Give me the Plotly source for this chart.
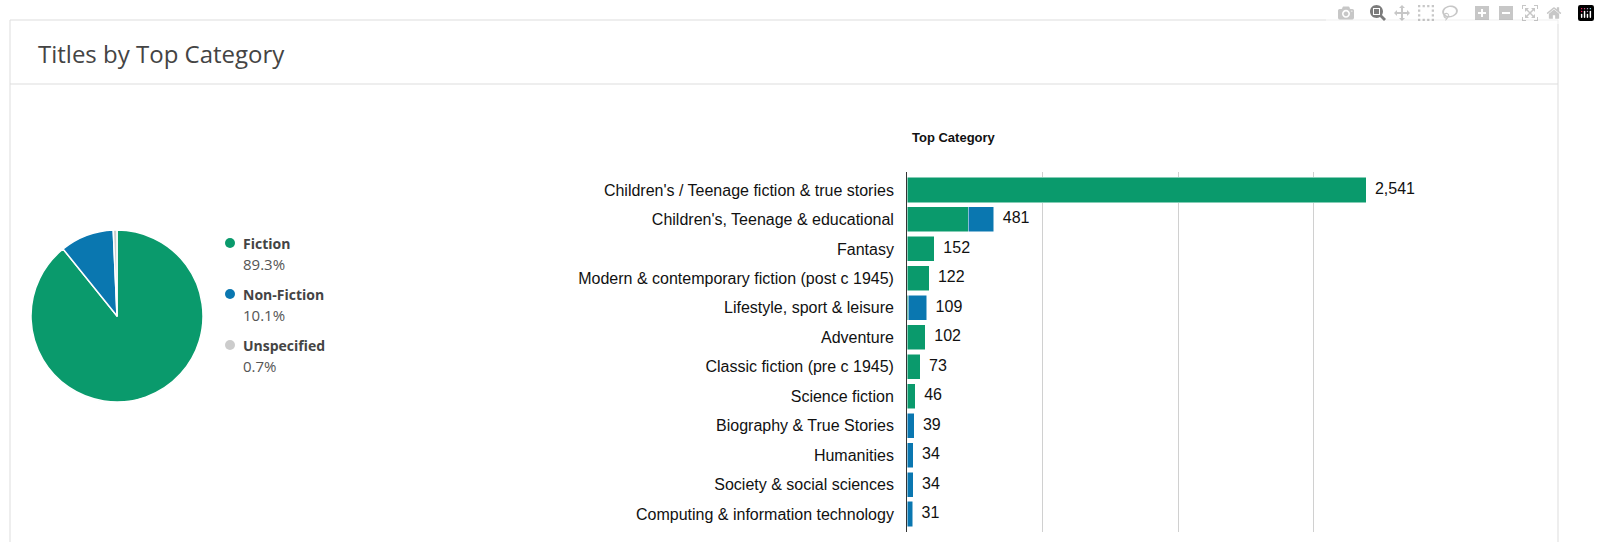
import plotly.graph_objects as go

W, H = 1600, 542
pie_labels = ["Fiction", "Non-Fiction", "Unspecified"]
pie_values = [89.3, 10.1, 0.7]
pie_colors = ["#0a9a6c", "#0a77b0", "#cccccc"]

categories = ["Children's / Teenage fiction & true stories", "Children's, Teenage & educational",
              "Fantasy", "Modern & contemporary fiction (post c 1945)", "Lifestyle, sport & leisure",
              "Adventure", "Classic fiction (pre c 1945)", "Science fiction", "Biography & True Stories",
              "Humanities", "Society & social sciences", "Computing & information technology"]
fiction = [2541, 338, 152, 122, 6, 102, 73, 46, 1, 2, 2, 1]
nonfiction = [0, 143, 0, 0, 103, 0, 0, 0, 38, 32, 32, 30]
totals = [2541, 481, 152, 122, 109, 102, 73, 46, 39, 34, 34, 31]
xticks = [0, 750, 1500, 2250, 3000]

def py(p):  # pixel y -> paper y
    return 1 - p / H

fig = go.Figure()
fig.add_trace(go.Pie(labels=pie_labels, values=pie_values, marker=dict(colors=pie_colors, line=dict(color="white", width=1.5)),
                     textinfo="none", sort=False, direction="clockwise", rotation=0, showlegend=False,
                     domain=dict(x=[31/W, 203/W], y=[py(402), py(230)])))
fig.add_trace(go.Bar(y=categories, x=fiction, orientation="h", marker=dict(color=pie_colors[0], line=dict(color="white", width=0.5)),
                     showlegend=False, width=0.85))
fig.add_trace(go.Bar(y=categories, x=nonfiction, orientation="h", marker=dict(color=pie_colors[1], line=dict(color="white", width=0.5)),
                     showlegend=False, width=0.85))
fig.add_trace(go.Scatter(y=categories, x=totals, mode="text", text=[f"  {v:,}" for v in totals],
                         textposition="middle right", textfont=dict(family="Arial", size=16, color="#111"),
                         showlegend=False, cliponaxis=False))

for i, (lab, val, col) in enumerate(zip(pie_labels, pie_values, pie_colors)):
    y0 = 243 + i * 51
    fig.add_shape(type="circle", xref="paper", yref="paper", x0=225/W, x1=235/W, y0=py(y0+5), y1=py(y0-5),
                  fillcolor=col, line=dict(width=0))
    fig.add_annotation(xref="paper", yref="paper", x=241/W, y=py(y0), xanchor="left", yanchor="middle", showarrow=False,
                       text=f"<b>{lab}</b>", font=dict(family="Open Sans", size=14, color="#444"))
    fig.add_annotation(xref="paper", yref="paper", x=241/W, y=py(y0+21), xanchor="left", yanchor="middle", showarrow=False,
                       text=f"{val}%", font=dict(family="Open Sans", size=15, color="#555"))

# card
fig.add_shape(type="rect", xref="paper", yref="paper", x0=10/W, x1=1558/W, y0=py(560), y1=py(20),
              line=dict(color="#ddd", width=1), layer="below")
fig.add_shape(type="line", xref="paper", yref="paper", x0=10/W, x1=1558/W, y0=py(84), y1=py(84),
              line=dict(color="#ddd", width=1))
fig.add_annotation(xref="paper", yref="paper", x=36/W, y=py(53), xanchor="left", yanchor="middle", showarrow=False,
                   text="Titles by Top Category", font=dict(family="Open Sans", size=24, color="#444"))
fig.add_annotation(xref="paper", yref="paper", x=954/W, y=py(137), xanchor="center", yanchor="middle", showarrow=False,
                   text="<b>Top Category</b>", font=dict(family="Arial", size=13, color="#111"))

fig.update_layout(
    width=W, height=H, margin=dict(l=0, r=0, t=0, b=0), barmode="stack",
    paper_bgcolor="white", plot_bgcolor="white",
    xaxis=dict(domain=[907/W, 1449/W], range=[0, 3000], tickvals=xticks, showticklabels=False,
               showgrid=True, gridcolor="#d0d0d0", gridwidth=1, zeroline=False, fixedrange=True),
    yaxis=dict(domain=[py(532), py(172)], autorange="reversed", showline=True, linecolor="#333", linewidth=1,
               ticks="", ticksuffix="  ", tickfont=dict(family="Arial", size=16, color="#111")),
)
fig.write_html("out.html")
with open("out.html", encoding="utf-8") as f:
    html = f.read()
html = html.replace("<body>", '<body style="margin:0;overflow:hidden">', 1)
html = html.replace("<head>", "<head><style>html,body{margin:0;padding:0;overflow:hidden}</style>", 1)
with open("out.html", "w", encoding="utf-8") as f:
    f.write(html)
